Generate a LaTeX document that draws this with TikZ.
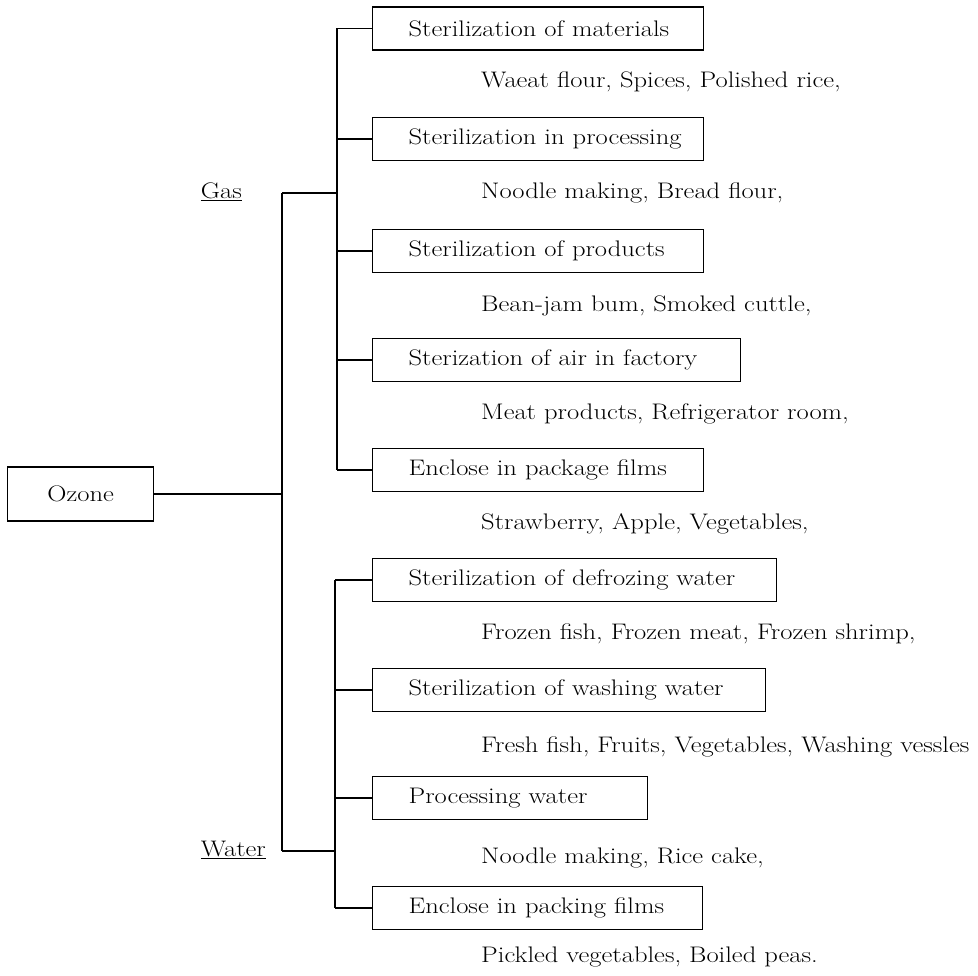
\documentclass[tikz,border=0pt]{standalone}
\usepackage{fontspec}
\setmainfont{Latin Modern Roman}[FakeStretch=1.18]
\newcommand\boxtxt[2]{\makebox[#1][l]{#2}}
\begin{document}
\begin{tikzpicture}[x=1pt,y=-1pt,
  every node/.style={font=\fontsize{22.5}{27}\selectfont},
  conn/.style={line width=1.3pt},
  catbox/.style={draw,line width=1.3pt,anchor=west,minimum height=43pt,inner xsep=36pt,inner ysep=0pt},
  item/.style={anchor=west,inner sep=0pt},
  lab/.style={anchor=east,inner sep=0pt}]
\useasboundingbox (0,0) rectangle (978,976);
% root
\node[draw,line width=1.3pt,anchor=west,minimum width=146pt,minimum height=54pt,inner sep=0pt] (ozone) at (7,494) {Ozone};
% junctions
\coordinate (gasj) at (282,193);
\coordinate (watj) at (282,851);
\coordinate (gi) at (337,193);
\coordinate (wi) at (335,851);
% labels
\node[lab] (gas) at (242,192) {\underline{Gas}};
\node[lab] (water) at (266,850) {\underline{Water}};
% boxes
\node[catbox] (b1) at (372,28.5) {\boxtxt{259pt}{Sterilization of materials}};
\node[catbox] (b2) at (372,139) {\boxtxt{259pt}{Sterilization in processing}};
\node[catbox] (b3) at (372,251) {\boxtxt{259pt}{Sterilization of products}};
\node[catbox] (b4) at (372,360) {\boxtxt{296pt}{Sterization of air in factory}};
\node[catbox] (b5) at (372,470) {\boxtxt{259pt}{Enclose in package films}};
\node[catbox] (b6) at (372,580) {\boxtxt{332pt}{Sterilization of defrozing water}};
\node[catbox] (b7) at (372,690) {\boxtxt{321pt}{Sterilization of washing water}};
\node[catbox] (b8) at (372,798) {\boxtxt{203pt}{Processing water}};
\node[catbox] (b9) at (372,908) {\boxtxt{258pt}{Enclose in packing films}};
% items
\node[item] (i1) at (481,82) {Waeat flour, Spices, Polished rice,};
\node[item] (i2) at (481,193) {Noodle making, Bread flour,};
\node[item] (i3) at (481,306) {Bean-jam bum, Smoked cuttle,};
\node[item] (i4) at (481,414) {Meat products, Refrigerator room,};
\node[item] (i5) at (481,524) {Strawberry, Apple, Vegetables,};
\node[item] (i6) at (481,634) {Frozen fish, Frozen meat, Frozen shrimp,};
\node[item] (i7) at (481,747) {Fresh fish, Fruits, Vegetables, Washing vessles};
\node[item] (i8) at (481,858) {Noodle making, Rice cake,};
\node[item] (i9) at (481,957) {Pickled vegetables, Boiled peas.};
% connectors
\draw[conn] (ozone.east) -- (ozone.east -| gasj);
\draw[conn] (gasj) -- (watj);
\draw[conn] (gasj) -- (gi);
\draw[conn] (watj) -- (wi);
\draw[conn] (b1.west -| gi) -- (b5.west -| gi);
\draw[conn] (b6.west -| wi) -- (b9.west -| wi);
\foreach \b in {b1,b2,b3,b4,b5} \draw[conn] (\b.west -| gi) -- (\b.west);
\foreach \b in {b6,b7,b8,b9} \draw[conn] (\b.west -| wi) -- (\b.west);
\end{tikzpicture}
\end{document}
